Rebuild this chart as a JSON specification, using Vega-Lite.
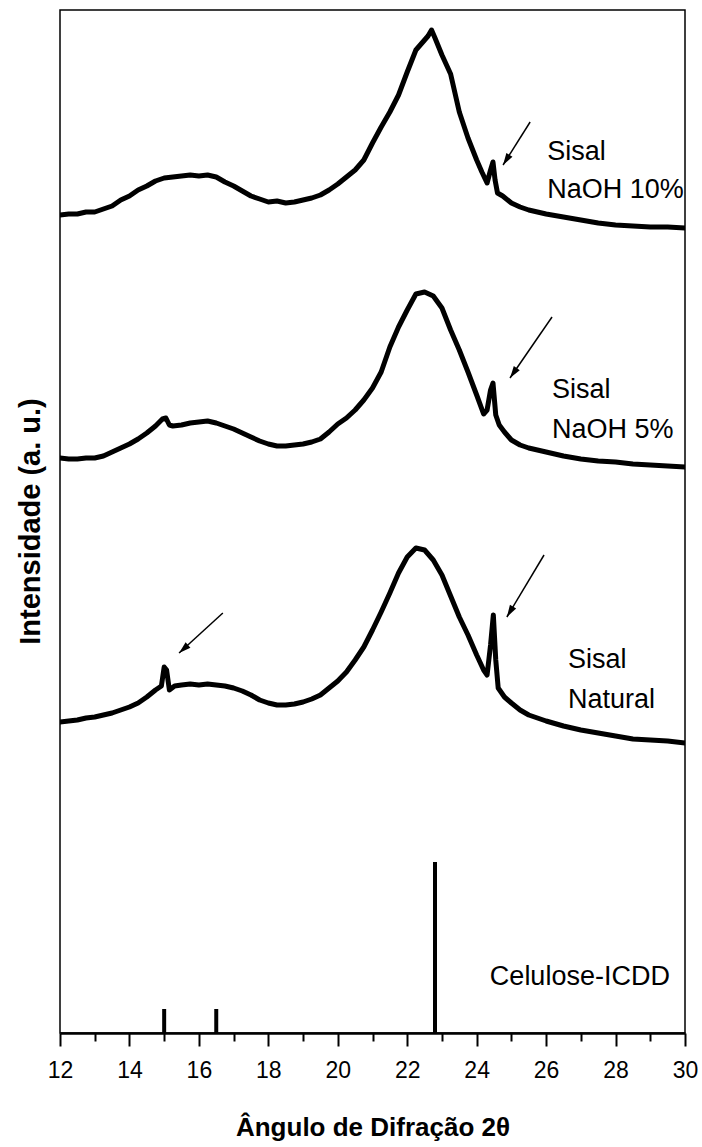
{
  "$schema": "https://vega.github.io/schema/vega-lite/v6.json",
  "width": 625,
  "height": 1023,
  "autosize": {"type": "none"},
  "padding": {"left": 60, "top": 10, "right": 17, "bottom": 114},
  "background": "white",
  "config": {
    "view": {"stroke": "black", "strokeWidth": 1.5},
    "font": "Liberation Sans"
  },
  "datasets": {
    "curves": [
      {"s":"a","t":12.0,"v":818},{"s":"a","t":12.25,"v":819},{"s":"a","t":12.5,"v":819},{"s":"a","t":12.75,"v":821},{"s":"a","t":13.0,"v":821},{"s":"a","t":13.25,"v":824},{"s":"a","t":13.5,"v":827},{"s":"a","t":13.75,"v":833},{"s":"a","t":14.0,"v":837},{"s":"a","t":14.25,"v":843},{"s":"a","t":14.5,"v":847},{"s":"a","t":14.75,"v":852},{"s":"a","t":15.0,"v":855},{"s":"a","t":15.25,"v":856},{"s":"a","t":15.5,"v":857},{"s":"a","t":15.75,"v":858},{"s":"a","t":16.0,"v":857},{"s":"a","t":16.25,"v":858},{"s":"a","t":16.5,"v":856},{"s":"a","t":16.75,"v":851},{"s":"a","t":17.0,"v":847},{"s":"a","t":17.25,"v":842},{"s":"a","t":17.5,"v":837},{"s":"a","t":17.75,"v":834},{"s":"a","t":18.0,"v":831},{"s":"a","t":18.25,"v":832},{"s":"a","t":18.5,"v":830},{"s":"a","t":18.75,"v":831},{"s":"a","t":19.0,"v":833},{"s":"a","t":19.25,"v":835},{"s":"a","t":19.5,"v":838},{"s":"a","t":19.75,"v":843},{"s":"a","t":20.0,"v":849},{"s":"a","t":20.25,"v":856},{"s":"a","t":20.5,"v":863},{"s":"a","t":20.75,"v":873},{"s":"a","t":21.0,"v":890},{"s":"a","t":21.25,"v":906},{"s":"a","t":21.5,"v":921},{"s":"a","t":21.75,"v":938},{"s":"a","t":22.0,"v":961},{"s":"a","t":22.25,"v":983},{"s":"a","t":22.5,"v":993},{"s":"a","t":22.6,"v":997},{"s":"a","t":22.7,"v":1003},{"s":"a","t":22.8,"v":995},{"s":"a","t":23.0,"v":978},{"s":"a","t":23.25,"v":959},{"s":"a","t":23.5,"v":921},{"s":"a","t":23.75,"v":895},{"s":"a","t":24.0,"v":873},{"s":"a","t":24.15,"v":861},{"s":"a","t":24.3,"v":850},{"s":"a","t":24.4,"v":863},{"s":"a","t":24.47,"v":871},{"s":"a","t":24.53,"v":853},{"s":"a","t":24.6,"v":840},{"s":"a","t":24.75,"v":837},{"s":"a","t":25.0,"v":830},{"s":"a","t":25.25,"v":826},{"s":"a","t":25.5,"v":823},{"s":"a","t":26.0,"v":819},{"s":"a","t":26.5,"v":816},{"s":"a","t":27.0,"v":813},{"s":"a","t":27.5,"v":810},{"s":"a","t":28.0,"v":808},{"s":"a","t":28.5,"v":807},{"s":"a","t":29.0,"v":806},{"s":"a","t":29.5,"v":806},{"s":"a","t":30.0,"v":805},
      {"s":"b","t":12.0,"v":575},{"s":"b","t":12.25,"v":574},{"s":"b","t":12.5,"v":574},{"s":"b","t":12.75,"v":575},{"s":"b","t":13.0,"v":575},{"s":"b","t":13.25,"v":577},{"s":"b","t":13.5,"v":581},{"s":"b","t":13.75,"v":585},{"s":"b","t":14.0,"v":589},{"s":"b","t":14.25,"v":594},{"s":"b","t":14.5,"v":600},{"s":"b","t":14.75,"v":607},{"s":"b","t":14.95,"v":614},{"s":"b","t":15.05,"v":615},{"s":"b","t":15.15,"v":608},{"s":"b","t":15.25,"v":607},{"s":"b","t":15.5,"v":608},{"s":"b","t":15.75,"v":610},{"s":"b","t":16.0,"v":611},{"s":"b","t":16.25,"v":612},{"s":"b","t":16.5,"v":610},{"s":"b","t":16.75,"v":607},{"s":"b","t":17.0,"v":604},{"s":"b","t":17.25,"v":600},{"s":"b","t":17.5,"v":596},{"s":"b","t":17.75,"v":592},{"s":"b","t":18.0,"v":589},{"s":"b","t":18.25,"v":587},{"s":"b","t":18.5,"v":587},{"s":"b","t":18.75,"v":588},{"s":"b","t":19.0,"v":589},{"s":"b","t":19.25,"v":591},{"s":"b","t":19.5,"v":594},{"s":"b","t":19.75,"v":601},{"s":"b","t":20.0,"v":609},{"s":"b","t":20.25,"v":615},{"s":"b","t":20.5,"v":623},{"s":"b","t":20.75,"v":633},{"s":"b","t":21.0,"v":645},{"s":"b","t":21.25,"v":661},{"s":"b","t":21.5,"v":686},{"s":"b","t":21.75,"v":706},{"s":"b","t":22.0,"v":723},{"s":"b","t":22.25,"v":739},{"s":"b","t":22.5,"v":741},{"s":"b","t":22.75,"v":737},{"s":"b","t":23.0,"v":725},{"s":"b","t":23.25,"v":703},{"s":"b","t":23.5,"v":683},{"s":"b","t":23.75,"v":661},{"s":"b","t":24.0,"v":638},{"s":"b","t":24.2,"v":619},{"s":"b","t":24.3,"v":623},{"s":"b","t":24.4,"v":643},{"s":"b","t":24.47,"v":650},{"s":"b","t":24.55,"v":618},{"s":"b","t":24.65,"v":608},{"s":"b","t":24.8,"v":601},{"s":"b","t":25.0,"v":593},{"s":"b","t":25.25,"v":588},{"s":"b","t":25.5,"v":585},{"s":"b","t":26.0,"v":581},{"s":"b","t":26.5,"v":577},{"s":"b","t":27.0,"v":574},{"s":"b","t":27.5,"v":572},{"s":"b","t":28.0,"v":571},{"s":"b","t":28.5,"v":569},{"s":"b","t":29.0,"v":568},{"s":"b","t":29.5,"v":567},{"s":"b","t":30.0,"v":566},
      {"s":"c","t":12.0,"v":311},{"s":"c","t":12.25,"v":312},{"s":"c","t":12.5,"v":313},{"s":"c","t":12.75,"v":315},{"s":"c","t":13.0,"v":316},{"s":"c","t":13.25,"v":318},{"s":"c","t":13.5,"v":320},{"s":"c","t":13.75,"v":323},{"s":"c","t":14.0,"v":326},{"s":"c","t":14.25,"v":330},{"s":"c","t":14.5,"v":336},{"s":"c","t":14.75,"v":343},{"s":"c","t":14.92,"v":347},{"s":"c","t":15.0,"v":366},{"s":"c","t":15.07,"v":363},{"s":"c","t":15.15,"v":343},{"s":"c","t":15.3,"v":347},{"s":"c","t":15.5,"v":348},{"s":"c","t":15.75,"v":349},{"s":"c","t":16.0,"v":348},{"s":"c","t":16.25,"v":349},{"s":"c","t":16.5,"v":348},{"s":"c","t":16.75,"v":347},{"s":"c","t":17.0,"v":345},{"s":"c","t":17.25,"v":342},{"s":"c","t":17.5,"v":338},{"s":"c","t":17.75,"v":333},{"s":"c","t":18.0,"v":330},{"s":"c","t":18.25,"v":328},{"s":"c","t":18.5,"v":328},{"s":"c","t":18.75,"v":329},{"s":"c","t":19.0,"v":331},{"s":"c","t":19.25,"v":334},{"s":"c","t":19.5,"v":338},{"s":"c","t":19.75,"v":345},{"s":"c","t":20.0,"v":352},{"s":"c","t":20.25,"v":361},{"s":"c","t":20.5,"v":373},{"s":"c","t":20.75,"v":386},{"s":"c","t":21.0,"v":403},{"s":"c","t":21.25,"v":421},{"s":"c","t":21.5,"v":440},{"s":"c","t":21.75,"v":460},{"s":"c","t":22.0,"v":476},{"s":"c","t":22.25,"v":485},{"s":"c","t":22.5,"v":483},{"s":"c","t":22.75,"v":473},{"s":"c","t":23.0,"v":458},{"s":"c","t":23.25,"v":437},{"s":"c","t":23.5,"v":416},{"s":"c","t":23.75,"v":398},{"s":"c","t":24.0,"v":378},{"s":"c","t":24.2,"v":363},{"s":"c","t":24.3,"v":358},{"s":"c","t":24.4,"v":388},{"s":"c","t":24.48,"v":418},{"s":"c","t":24.55,"v":373},{"s":"c","t":24.62,"v":345},{"s":"c","t":24.8,"v":336},{"s":"c","t":25.0,"v":330},{"s":"c","t":25.25,"v":323},{"s":"c","t":25.5,"v":318},{"s":"c","t":26.0,"v":312},{"s":"c","t":26.5,"v":307},{"s":"c","t":27.0,"v":303},{"s":"c","t":27.5,"v":300},{"s":"c","t":28.0,"v":297},{"s":"c","t":28.5,"v":294},{"s":"c","t":29.0,"v":293},{"s":"c","t":29.5,"v":292},{"s":"c","t":30.0,"v":290}
    ],
    "sticks": [
      {"t": 15.0, "v": 24},
      {"t": 16.5, "v": 24},
      {"t": 22.8, "v": 171}
    ],
    "labels": [
      {"t": 26.03, "v": 873, "label": "Sisal"},
      {"t": 26.03, "v": 835, "label": "NaOH 10%"},
      {"t": 26.17, "v": 635, "label": "Sisal"},
      {"t": 26.17, "v": 595, "label": "NaOH 5%"},
      {"t": 26.63, "v": 365, "label": "Sisal"},
      {"t": 26.63, "v": 325, "label": "Natural"},
      {"t": 24.38, "v": 48, "label": "Celulose-ICDD"}
    ],
    "arrows": [
      {"id": "a1", "t": 25.54, "v": 911, "t2": 24.76, "v2": 868},
      {"id": "a2", "t": 26.17, "v": 716, "t2": 24.96, "v2": 655},
      {"id": "a3", "t": 25.94, "v": 478, "t2": 24.87, "v2": 416},
      {"id": "a4", "t": 16.69, "v": 420, "t2": 15.43, "v2": 380}
    ]
  },
  "encoding": {
    "x": {
      "field": "t", "type": "quantitative",
      "scale": {"domain": [12, 30], "nice": false, "zero": false},
      "axis": {
        "title": "Ângulo de Difração 2θ",
        "values": [12,13,14,15,16,17,18,19,20,21,22,23,24,25,26,27,28,29,30],
        "labelExpr": "datum.value % 2 == 0 ? datum.label : ''",
        "grid": false,
        "domainColor": "black", "domainWidth": 2.5,
        "tickColor": "black", "tickWidth": 2,
        "tickSize": {"condition": {"test": "datum.value % 2 == 0", "value": 13}, "value": 8},
        "labelFont": "Liberation Sans", "labelFontSize": 23, "labelColor": "black",
        "labelPadding": 13, "labelBaseline": "top",
        "labelOverlap": false, "labelFlush": false,
        "titleFont": "Liberation Sans", "titleFontSize": 26, "titleFontWeight": "bold", "titleColor": "black",
        "titleBaseline": "alphabetic", "titleY": 102
      }
    },
    "y": {
      "field": "v", "type": "quantitative",
      "scale": {"domain": [0, 1023], "nice": false, "zero": false},
      "axis": {
        "title": "Intensidade (a. u.)",
        "labels": false, "ticks": false, "domain": false, "grid": false,
        "titleFont": "Liberation Sans", "titleFontSize": 29, "titleFontWeight": "bold", "titleColor": "black",
        "titleAngle": 270, "titleAlign": "center", "titleBaseline": "middle",
        "titleX": -30, "titleY": 511
      }
    }
  },
  "layer": [
    {
      "data": {"name": "curves"},
      "mark": {"type": "line", "color": "black", "strokeWidth": 5, "strokeJoin": "round", "strokeCap": "round", "clip": true},
      "encoding": {
        "detail": {"field": "s"}
      }
    },
    {
      "data": {"name": "sticks"},
      "mark": {"type": "rule", "color": "black", "strokeWidth": 4},
      "encoding": {
        "y2": {"datum": 0}
      }
    },
    {
      "data": {"name": "labels"},
      "mark": {"type": "text", "align": "left", "baseline": "alphabetic", "font": "Liberation Sans", "fontSize": 27, "color": "black"},
      "encoding": {
        "text": {"field": "label"}
      }
    },
    {
      "data": {"name": "arrows"},
      "mark": {"type": "rule", "color": "black", "strokeWidth": 1.5},
      "encoding": {
        "x2": {"field": "t2"},
        "y2": {"field": "v2"}
      }
    },
    {
      "data": {"name": "arrows"},
      "transform": [{"filter": "datum.id == 'a1'"}],
      "mark": {"type": "point", "shape": "M0,0L-0.3,1L0.3,1Z", "filled": true, "color": "black", "opacity": 1, "size": 576, "angle": 212},
      "encoding": {
        "x": {"field": "t2", "type": "quantitative"},
        "y": {"field": "v2", "type": "quantitative"}
      }
    },
    {
      "data": {"name": "arrows"},
      "transform": [{"filter": "datum.id == 'a2'"}],
      "mark": {"type": "point", "shape": "M0,0L-0.3,1L0.3,1Z", "filled": true, "color": "black", "opacity": 1, "size": 576, "angle": 214.5},
      "encoding": {
        "x": {"field": "t2", "type": "quantitative"},
        "y": {"field": "v2", "type": "quantitative"}
      }
    },
    {
      "data": {"name": "arrows"},
      "transform": [{"filter": "datum.id == 'a3'"}],
      "mark": {"type": "point", "shape": "M0,0L-0.3,1L0.3,1Z", "filled": true, "color": "black", "opacity": 1, "size": 576, "angle": 211},
      "encoding": {
        "x": {"field": "t2", "type": "quantitative"},
        "y": {"field": "v2", "type": "quantitative"}
      }
    },
    {
      "data": {"name": "arrows"},
      "transform": [{"filter": "datum.id == 'a4'"}],
      "mark": {"type": "point", "shape": "M0,0L-0.3,1L0.3,1Z", "filled": true, "color": "black", "opacity": 1, "size": 576, "angle": 228},
      "encoding": {
        "x": {"field": "t2", "type": "quantitative"},
        "y": {"field": "v2", "type": "quantitative"}
      }
    }
  ]
}
